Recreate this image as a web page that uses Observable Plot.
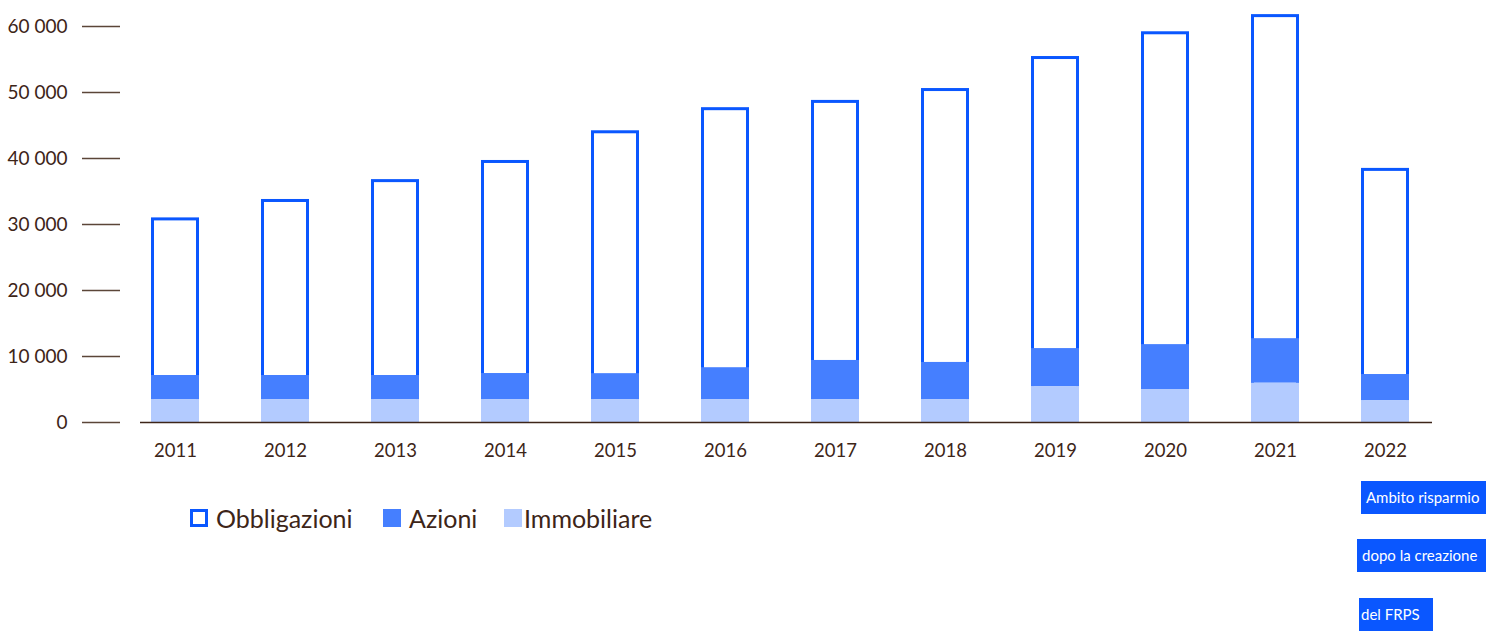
<!DOCTYPE html>
<html>
<head>
<meta charset="utf-8">
<script src="https://cdn.jsdelivr.net/npm/d3@7"></script>
<script src="https://cdn.jsdelivr.net/npm/@observablehq/plot@0.6"></script>
<style>
  html, body { margin: 0; padding: 0; background: #fff; }
  #wrap { position: relative; width: 1486px; height: 631px; overflow: hidden; font-family: Lato, sans-serif; }
  #chart { position: absolute; left: 0; top: 0; }
  .legend { position: absolute; top: 506px; left: 0; height: 30px; }
  .lg-item { position: absolute; top: 0; display: flex; align-items: center; font-size: 25px; line-height: 24px; color: #3d2518; white-space: nowrap; }
  .sw { display: inline-block; width: 18px; height: 18px; box-sizing: border-box; margin-right: 8px; }
  .note { position: absolute; background: #0a57ff; color: #fff; font-size: 15px; line-height: 33px; height: 33px; box-sizing: border-box; padding-left: 5px; white-space: nowrap; overflow: hidden; }
</style>
</head>
<body>
<div id="wrap">
  <div id="chart"></div>
  <div class="legend" id="legend"></div>
  <div id="notes"></div>
</div>
<script>
// ---- data ----
const years = ["2011","2012","2013","2014","2015","2016","2017","2018","2019","2020","2021","2022"];
const immobiliare  = [3480, 3480, 3480, 3480, 3480, 3480, 3480, 3480, 5450, 5000, 5950, 3330];
const azioni       = [3640, 3640, 3640, 3940, 3920, 4820, 5920, 5620, 5750, 6800, 6750, 3940];
const obbligazioni = [23880, 26670, 29680, 32280, 36800, 39400, 39400, 41500, 44250, 47400, 49100, 31230];
const yTicks = [0, 10000, 20000, 30000, 40000, 50000, 60000];
const seriesNames = ["Obbligazioni", "Azioni", "Immobiliare"];
const noteLines = ["Ambito risparmio", "dopo la creazione", "del FRPS"];

const colObb = "#0a57ff", colAz = "#457fff", colImm = "#b3cbff";
const textCol = "#3d2518", tickCol = "#5b4638";

const rows = years.map((year, i) => ({
  year,
  immTop: immobiliare[i],
  azTop: immobiliare[i] + azioni[i],
  total: immobiliare[i] + azioni[i] + obbligazioni[i]
}));

const fmt = d => d3.format(",")(d).replace(/,/g, " ");

const plot = Plot.plot({
  width: 1486,
  height: 470,
  marginTop: 26,
  marginBottom: 48,
  marginLeft: 140,
  marginRight: 54,
  style: { fontFamily: "Lato, sans-serif", fontSize: "19px", color: textCol, background: "transparent" },
  x: { type: "band", domain: years, range: [120, 1441], paddingInner: 0.5636, paddingOuter: 0.2818 },
  y: { domain: [0, 60000], range: [422, 26] },
  marks: [
    Plot.barY(rows, { x: "year", y1: 0, y2: "total", fill: "white", stroke: colObb, strokeWidth: 3, inset: 1.5 }),
    Plot.barY(rows, { x: "year", y1: "immTop", y2: "azTop", fill: colAz }),
    Plot.barY(rows, { x: "year", y1: 0, y2: "immTop", fill: colImm }),
    Plot.ruleY([0], { stroke: textCol, strokeWidth: 1.5 }),
    Plot.axisY(yTicks, { tickSize: 38, tickPadding: 15, dx: -20, tickFormat: fmt, stroke: tickCol, fill: textCol, strokeWidth: 1.4, fontSize: 19, label: null }),
    Plot.axisX({ tickSize: 0, tickPadding: 21, fill: textCol, fontSize: 18.5, label: null })
  ]
});
document.getElementById("chart").appendChild(plot);

// ---- legend ----
const legendPos = [190, 383, 504];
const swStyles = [
  `border:3px solid ${colObb}; background:#fff;`,
  `background:${colAz};`,
  `background:${colImm};`
];
const legend = document.getElementById("legend");
seriesNames.forEach((name, i) => {
  const item = document.createElement("div");
  item.className = "lg-item";
  item.style.left = legendPos[i] + "px";
  const sw = document.createElement("span");
  sw.className = "sw";
  sw.setAttribute("style", swStyles[i] + (i === 2 ? "margin-right:2px;" : ""));
  item.appendChild(sw);
  item.appendChild(document.createTextNode(name));
  legend.appendChild(item);
});

// ---- annotation boxes ----
const notePos = [
  { left: 1361, top: 481, width: 125 },
  { left: 1357, top: 539, width: 129 },
  { left: 1359, top: 598, width: 74 }
];
const notes = document.getElementById("notes");
noteLines.forEach((t, i) => {
  const d = document.createElement("div");
  d.className = "note";
  d.style.left = notePos[i].left + "px";
  d.style.top = notePos[i].top + "px";
  d.style.width = notePos[i].width + "px";
  d.style.paddingLeft = (i === 2 ? 2 : 5) + "px";
  d.textContent = t;
  notes.appendChild(d);
});
</script>
</body>
</html>
